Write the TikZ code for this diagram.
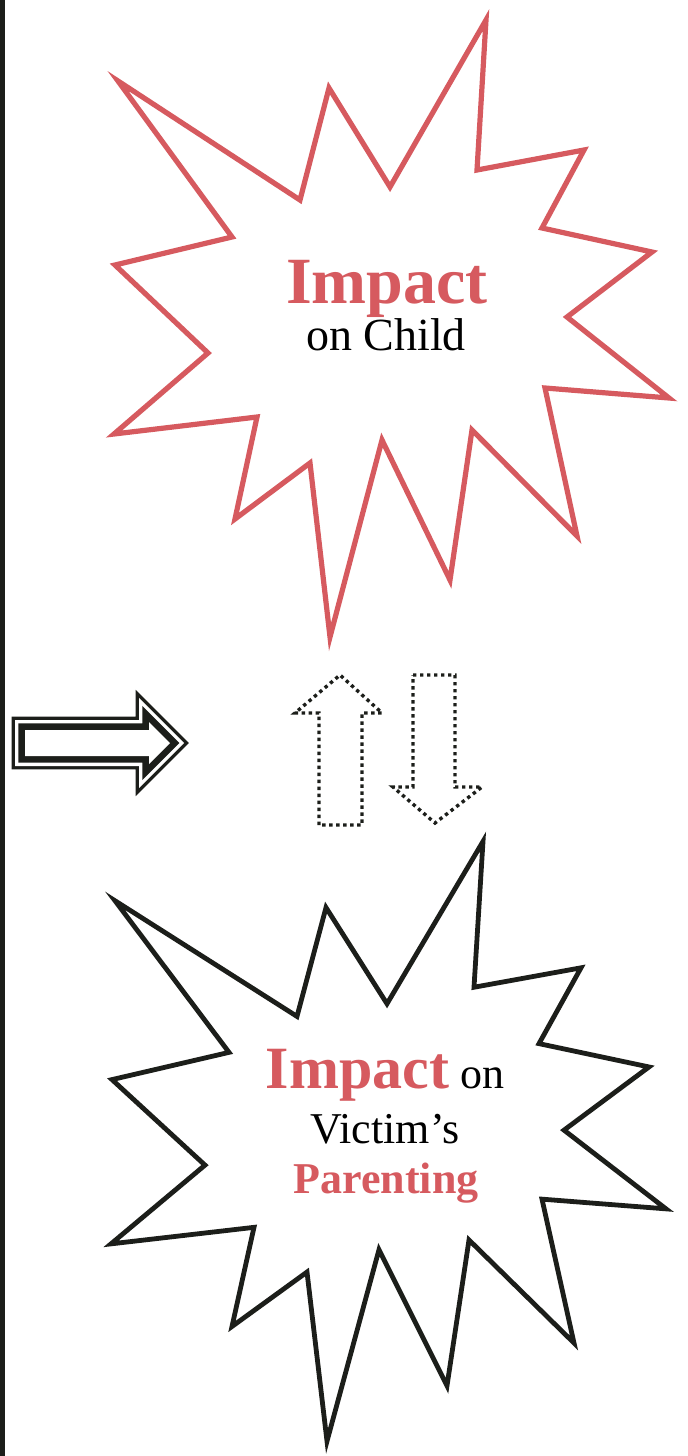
\documentclass[tikz,border=0pt]{standalone}
\usepackage{fontspec}
\usepackage{tikz}
\usetikzlibrary{positioning}
\setmainfont{Liberation Serif}
\definecolor{impactred}{HTML}{D65A5F}
\definecolor{inkblack}{HTML}{1C1E1A}

% outline of one burst, in pixel units
\newcommand{\burstpath}{(486,20) -- (477,170) -- (584,150) -- (542,228) -- (652,252) -- (567,317) -- (669,398) -- (545,388) -- (577,536) -- (472,430) -- (450,580) -- (382,440) -- (330,637) -- (310,463) -- (235,519) -- (257,417) -- (114,434) -- (208,353) -- (115,265) -- (232,237) -- (118,81) -- (300,200) -- (329,88) -- (390,187) -- cycle}

\begin{document}
\begin{tikzpicture}[x=0.5pt, y=-0.5pt,
    redburst/.style={draw=impactred, line width=2.6pt, fill=white},
    blackburst/.style={draw=inkblack, line width=2.4pt, fill=white},
    dotarrow/.style={draw=inkblack, line width=1.7pt, dash pattern=on 1.7pt off 1.8pt},
    doublearrow/.style={fill=white,
        preaction={draw=inkblack, line width=13.3pt},
        preaction={draw=white, line width=10pt},
        preaction={draw=inkblack, line width=6.7pt}}]
    \useasboundingbox (0,0) rectangle (688,1456);
    \fill[inkblack] (0,0) rectangle (5,1456);

    % Bursts
    \draw[redburst] \burstpath;
    \begin{scope}[shift={(-3,822)}, yscale=0.972]
        \draw[blackburst] \burstpath;
    \end{scope}

    % Texts
    \node (topimpact) [anchor=base, inner sep=0pt, text=impactred, font=\bfseries\fontsize{33}{36}\selectfont] at (387,303) {Impact};
    \node (topchild) [anchor=base, inner sep=0pt, font=\fontsize{23}{26}\selectfont] at (386,350) {on Child};
    \node (botimpact) [anchor=base, inner sep=0pt, font=\fontsize{22}{26}\selectfont] at (385,1088) {\textcolor{impactred}{\bfseries\fontsize{30}{34}\selectfont Impact} on};
    \node (botvictim) [anchor=base, inner sep=0pt, font=\fontsize{22}{26}\selectfont] at (385,1143) {Victim’s};
    \node (botparent) [anchor=base, inner sep=0pt, text=impactred, font=\bfseries\fontsize{22}{26}\selectfont] at (386,1193) {Parenting};

    % Arrows
    \path[doublearrow] (25,730) -- (149,730) -- (149,722) -- (170,743) -- (149,764) -- (149,756) -- (25,756) -- cycle;
    \draw[dotarrow] (319,825) -- (319,713) -- (295,713) -- (340,675) -- (382,713) -- (362,713) -- (362,825) -- cycle;
    \draw[dotarrow] (413,675) -- (455,675) -- (455,787) -- (482,787) -- (435,823) -- (393,787) -- (413,787) -- cycle;
\end{tikzpicture}
\end{document}
